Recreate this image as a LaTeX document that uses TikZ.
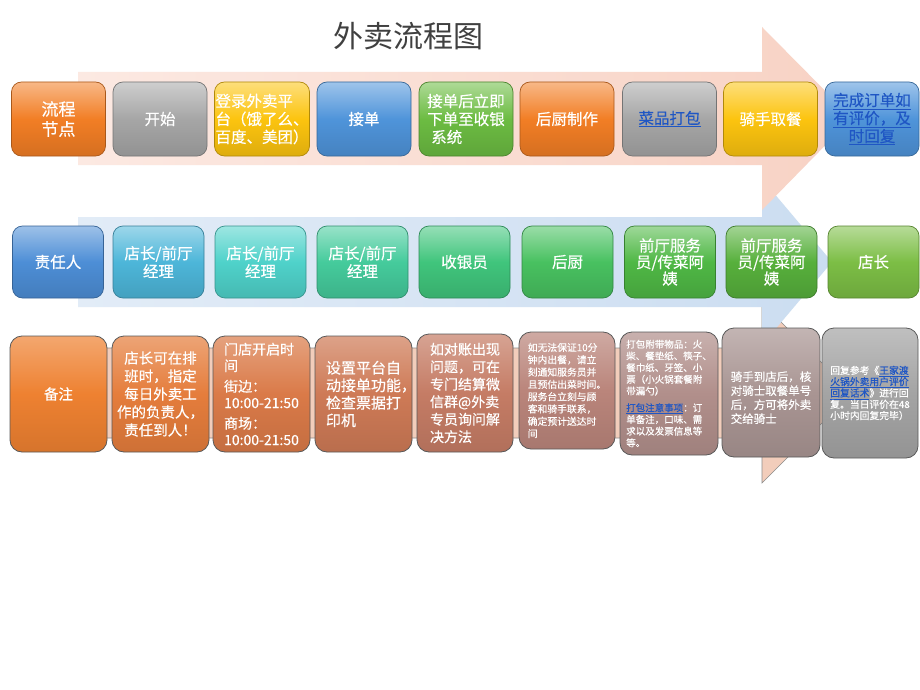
\documentclass[tikz,border=0pt]{standalone}
\usepackage{fontspec}
\setmainfont{Noto Sans CJK SC}
\newfontfamily\bx{Noto Sans CJK SC}[FakeBold=0.4]
\newcommand\fsz[2]{\fontsize{#1}{#2}\selectfont}
\newcommand\lk[1]{\textcolor{linkblue}{\underline{#1}}}
\definecolor{cOrange}{HTML}{F27E25}
\definecolor{cGray}{HTML}{A6A6A6}
\definecolor{cYellow}{HTML}{FCC40F}
\definecolor{cBlue}{HTML}{4F94DA}
\definecolor{cGreen}{HTML}{6CBC42}
\definecolor{rA}{HTML}{4D8ED6}
\definecolor{rB}{HTML}{4DB6D9}
\definecolor{rC}{HTML}{4FD2CA}
\definecolor{rD}{HTML}{45CB9C}
\definecolor{rE}{HTML}{40C57C}
\definecolor{rF}{HTML}{48C160}
\definecolor{rG}{HTML}{4FB845}
\definecolor{rH}{HTML}{57B03C}
\definecolor{rI}{HTML}{7CBE45}
\definecolor{nA}{HTML}{EE8131}
\definecolor{nB}{HTML}{E57D3C}
\definecolor{nC}{HTML}{DA7A48}
\definecolor{nD}{HTML}{CE7A56}
\definecolor{nE}{HTML}{C57C65}
\definecolor{nF}{HTML}{BA857B}
\definecolor{nG}{HTML}{B18F8B}
\definecolor{nH}{HTML}{A99593}
\definecolor{nI}{HTML}{A4A4A4}
\definecolor{linkblue}{HTML}{1F56C4}
\definecolor{pinkA}{HTML}{FCE9E2}
\definecolor{pinkB}{HTML}{F8D2C4}
\definecolor{blueA}{HTML}{E2ECF7}
\definecolor{blueB}{HTML}{CBDDF1}
\definecolor{peach}{HTML}{F2CDBB}
\tikzset{
  gbox/.style={rounded corners=10pt, draw=#1!70!black, line width=0.7pt,
    top color=#1!55!white, bottom color=#1!88!black, middle color=#1,
    text=white, align=center, inner sep=1pt, font=\bx\fsz{15.5}{18}},
  topbox/.style={minimum width=94pt, minimum height=74pt},
  midbox/.style={minimum width=91pt, minimum height=72pt},
  nbox/.style={rounded corners=12pt, draw=black!65, line width=0.8pt,
    top color=#1!70!white, bottom color=#1!90!black, middle color=#1,
    text=white, align=left, inner sep=0pt, font=\bx\fsz{14.5}{18}},
}
\begin{document}
\begin{tikzpicture}[x=1pt,y=-1pt]
\useasboundingbox (0,0) rectangle (920,690);
\fill[white] (0,0) rectangle (920,690);

% title
\node[font=\fsz{30}{32}, text=black!75] (title) at (408,36) {外卖流程图};

% background arrows
\draw[fill=peach, draw=black!45, line width=0.6pt]
  (60,348) -- (762,348) -- (762,303) -- (852,393) -- (762,483) -- (762,438) -- (60,438) -- cycle;
\shade[left color=blueA, right color=blueB]
  (78,217) -- (762,217) -- (762,179) -- (832,262) -- (762,345) -- (762,307) -- (78,307) -- cycle;
\shade[left color=pinkA, right color=pinkB]
  (78,72) -- (762,72) -- (762,27) -- (852,118) -- (762,210) -- (762,165) -- (78,165) -- cycle;

% row 1
\node[gbox=cOrange, topbox, font=\bx\fsz{17}{20}] (p1) at (58.5,119) {流程\\节点};
\node[gbox=cGray, topbox] (p2) at (160,119) {开始};
\node[gbox=cYellow, topbox, align=left] (p3) at (262,119) {登录外卖平\\台（饿了么、\\百度、美团）};
\node[gbox=cBlue, topbox] (p4) at (364,119) {接单};
\node[gbox=cGreen, topbox, align=left] (p5) at (466,119) {接单后立即\\下单至收银\\\hspace*{4pt}系统};
\node[gbox=cOrange, topbox] (p6) at (567,119) {后厨制作};
\node[gbox=cGray, topbox, text=linkblue] (p7) at (669.5,119) {\underline{菜品打包}};
\node[gbox=cYellow, topbox] (p8) at (770.5,119) {骑手取餐};
\node[gbox=cBlue, topbox, text=linkblue] (p9) at (872,119) {\underline{完成订单如}\\\underline{有评价，及}\\\underline{时回复}};

% row 2
\node[gbox=rA, midbox] (q1) at (58,262) {责任人};
\node[gbox=rB, midbox] (q2) at (158.5,262) {店长/前厅\\经理};
\node[gbox=rC, midbox] (q3) at (260.5,262) {店长/前厅\\经理};
\node[gbox=rD, midbox] (q4) at (362.5,262) {店长/前厅\\经理};
\node[gbox=rE, midbox] (q5) at (464.5,262) {收银员};
\node[gbox=rF, midbox] (q6) at (567.5,262) {后厨};
\node[gbox=rG, midbox, font=\bx\fsz{15.5}{16.5}] (q7) at (670,262) {前厅服务\\员/传菜阿\\姨};
\node[gbox=rH, midbox, font=\bx\fsz{15.5}{16.5}] (q8) at (771.5,262) {前厅服务\\员/传菜阿\\姨};
\node[gbox=rI, midbox] (q9) at (873.5,262) {店长};

% row 3
\node[nbox=nA, minimum width=97pt, minimum height=116pt, align=center] (n1) at (58.5,394) {备注};
\node[nbox=nB, minimum width=97pt, minimum height=116pt, align=center] (n2) at (160.5,394)
  {店长可在排\\班时，指定\\每日外卖工\\作的负责人，\\责任到人！};
\node[nbox=nC, minimum width=97pt, minimum height=116pt, font=\bx\fsz{14}{16.5}] (n3) at (261.5,394)
  {门店开启时\\间\\[4pt]街边：\\10:00-21:50\\[4pt]商场：\\10:00-21:50};
\node[nbox=nD, minimum width=97pt, minimum height=116pt, font=\bx\fsz{15}{17.5}] (n4) at (363.5,394)
  {设置平台自\\动接单功能\rlap{，}\\检查票据打\\印机};
\node[nbox=nE, minimum width=96pt, minimum height=118pt, font=\bx\fsz{14}{17.5}] (n5) at (465,393)
  {如对账出现\\问题，可在\\专门结算微\\信群@外卖\\专员询问解\\决方法};
\node[nbox=nF, minimum width=96pt, minimum height=117pt, font=\bx\fsz{9.8}{12.3}] (n6) at (567,390.5)
  {如无法保证10分\\钟内出餐，请立\\刻通知服务员并\\且预估出菜时间。\\服务台立刻与顾\\客和骑手联系，\\确定预计送达时\\间};
\node[nbox=nG, minimum width=98pt, minimum height=123pt, font=\bx\fsz{9.5}{11.7}] (n7) at (669,393.5)
  {打包附带物品：火\\柴、餐垫纸、筷子、\\餐巾纸、牙签、小\\票（小火锅套餐附\\带漏勺）\\[5pt]\lk{打包注意事项}：订\\单备注，口味、需\\求以及发票信息等\\等。};
\node[nbox=nH, minimum width=98pt, minimum height=129pt, font=\bx\fsz{11.5}{14}] (n8) at (771,392.5)
  {\\[6pt]骑手到店后，核\\对骑士取餐单号\\后，方可将外卖\\交给骑士};
\node[nbox=nI, minimum width=96pt, minimum height=130pt, font=\bx\fsz{9.8}{11.3}] (n9) at (870,393)
  {回复参考《\lk{王家渡}\\\lk{火锅外卖用户评价}\\\lk{回复话术}》进行回\\复。当日评价在48\\小时内回复完毕）};
\end{tikzpicture}
\end{document}
